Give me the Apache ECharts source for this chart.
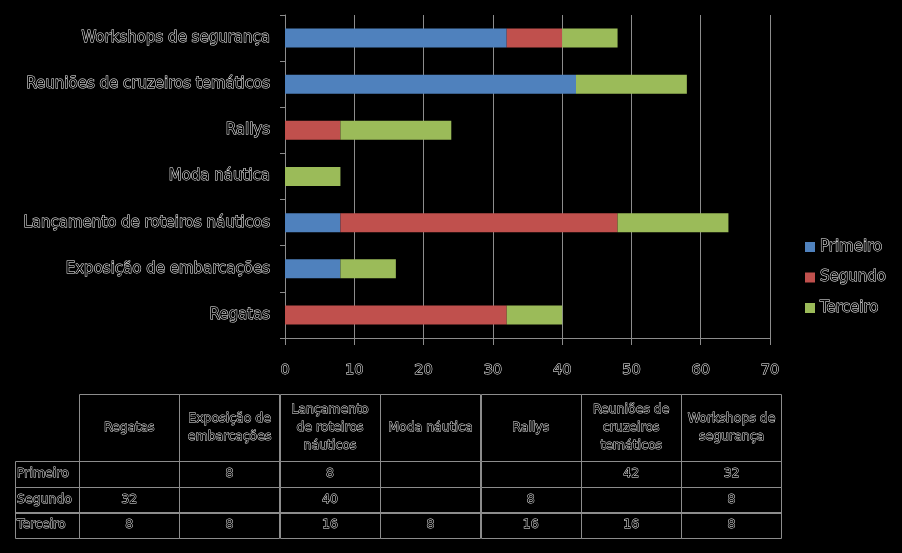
<!DOCTYPE html>
<html>
<head>
<meta charset="utf-8">
<script src="https://cdn.jsdelivr.net/npm/echarts@6/dist/echarts.min.js"></script>
<style>
html,body{margin:0;padding:0;background:#000;}
#c{width:902px;height:553px;}
</style>
</head>
<body>
<div id="c"></div>
<script>
const categories = ['Regatas','Exposição de embarcações','Lançamento de roteiros náuticos','Moda náutica','Rallys','Reuniões de cruzeiros temáticos','Workshops de segurança'];
const seriesNames = ['Primeiro','Segundo','Terceiro'];
const primeiro = [null, 8, 8, null, null, 42, 32];
const segundo  = [32, null, 40, null, 8, null, 8];
const terceiro = [8, 8, 16, 8, 16, 16, 8];
const xTicks = [0,10,20,30,40,50,60,70];

const colors = ['#4F81BD','#C0504D','#9BBB59'];
const FONT = '"DejaVu Sans", sans-serif';
const outline = {color:'#000', textBorderColor:'#f4f4f4', textBorderWidth:1, fontFamily:FONT};

const chart = echarts.init(document.getElementById('c'), null, {renderer:'canvas'});

const tbl = {x0:15, col0w:64, colw:100.4, y0:394, headH:67, rowH:25.5};
const TFS = 12.5;
const allVals = [primeiro, segundo, terceiro];
const graphics = [];

const mctx = document.createElement('canvas').getContext('2d');
mctx.font = TFS + 'px ' + FONT;
function wrap(text, maxW){
  const words = text.split(' ');
  const lines = [];
  let cur = '';
  words.forEach(w=>{
    const t = cur ? cur + ' ' + w : w;
    if (cur && mctx.measureText(t).width > maxW) { lines.push(cur); cur = w; }
    else cur = t;
  });
  if (cur) lines.push(cur);
  return lines.join('\n');
}
function cellRect(x,y,w,h){
  graphics.push({type:'rect', shape:{x:Math.round(x)+0.5,y:Math.round(y)+0.5,width:Math.round(w),height:Math.round(h)}, style:{fill:null, stroke:'#8c8c8c', lineWidth:1}, silent:true});
}
function tStyle(text, extra){
  return Object.assign({text:text, fill:'#000', stroke:'#ececec', lineWidth:0.9, fontFamily:FONT, fontSize:TFS}, extra);
}
categories.forEach((c,i)=>{
  const x = tbl.x0 + tbl.col0w + i*tbl.colw;
  cellRect(x, tbl.y0, tbl.colw, tbl.headH);
  graphics.push({type:'text', x: x + tbl.colw/2, y: tbl.y0 + tbl.headH/2, silent:true,
    style:tStyle(wrap(c, tbl.colw-6), {align:'center', verticalAlign:'middle', lineHeight:18})});
});
seriesNames.forEach((s,r)=>{
  const y = tbl.y0 + tbl.headH + r*tbl.rowH;
  cellRect(tbl.x0, y, tbl.col0w, tbl.rowH);
  graphics.push({type:'text', x: tbl.x0+2, y: y + tbl.rowH/2, silent:true,
    style:tStyle(s, {align:'left', verticalAlign:'middle'})});
  categories.forEach((c,i)=>{
    const x = tbl.x0 + tbl.col0w + i*tbl.colw;
    cellRect(x, y, tbl.colw, tbl.rowH);
    const v = allVals[r][i];
    if (v !== null) {
      graphics.push({type:'text', x: x + tbl.colw/2, y: y + tbl.rowH/2, silent:true,
        style:tStyle(String(v), {align:'center', verticalAlign:'middle'})});
    }
  });
});

const option = {
  backgroundColor:'#000',
  animation:false,
  color: colors,
  grid:{left:285, right:132, top:15, bottom:215, containLabel:false},
  legend:{
    orient:'vertical', left:800, top:234, itemWidth:10, itemHeight:10, itemGap:14.5,
    icon:'rect', data:seriesNames,
    textStyle:Object.assign({fontSize:15, padding:[0,0,0,0]}, outline)
  },
  xAxis:{
    type:'value', min:xTicks[0], max:xTicks[xTicks.length-1], interval:10,
    axisLine:{show:true, lineStyle:{color:'#8c8c8c'}},
    axisTick:{show:true, length:7, lineStyle:{color:'#8c8c8c'}},
    splitLine:{show:true, lineStyle:{color:'#8c8c8c'}},
    axisLabel:Object.assign({fontSize:14.5, margin:25}, outline)
  },
  yAxis:{
    type:'category', data:categories,
    axisLine:{show:true, lineStyle:{color:'#8c8c8c'}},
    axisTick:{show:true, length:5, inside:false, lineStyle:{color:'#8c8c8c'}},
    axisLabel:Object.assign({fontSize:15, margin:15}, outline)
  },
  series: seriesNames.map((n,k)=>({
    name:n, type:'bar', stack:'total', barWidth:19,
    data: allVals[k]
  })),
  graphic: graphics
};
chart.setOption(option);
</script>
</body>
</html>
